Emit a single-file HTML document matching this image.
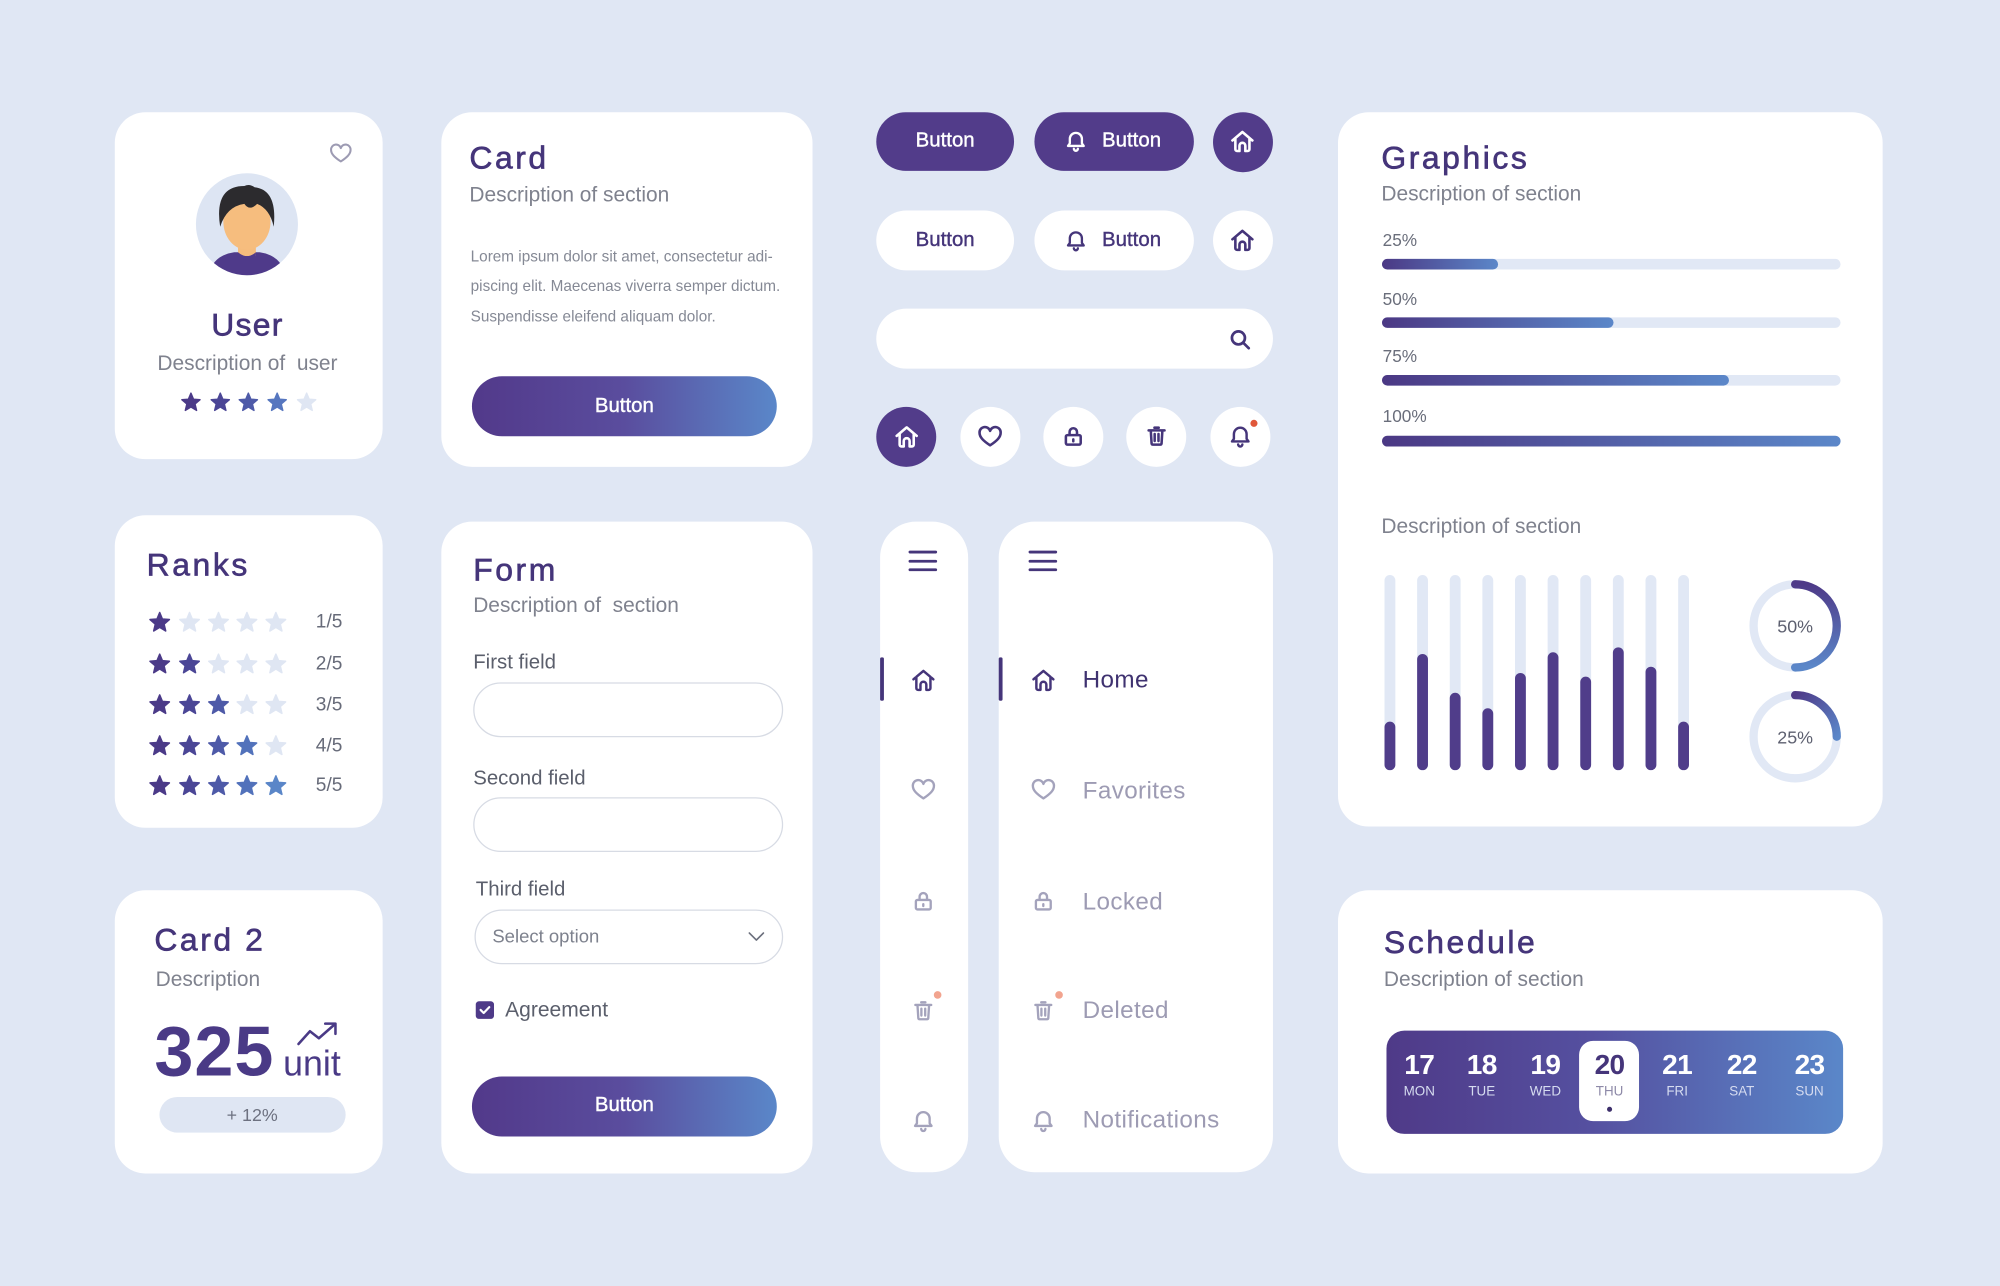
<!DOCTYPE html>
<html><head><meta charset="utf-8">
<style>
html,body{margin:0;padding:0;width:2000px;height:1286px;overflow:hidden;background:#e0e7f4;}
#s{position:absolute;left:0;top:0;width:1568px;height:1008px;transform:scale(1.27551);transform-origin:0 0;font-family:"Liberation Sans",sans-serif;}
.c{position:absolute;background:#fff;border-radius:24px;}
.t{position:absolute;white-space:nowrap;line-height:1;}
.h{font-size:25px;letter-spacing:2px;color:#45357a;-webkit-text-stroke:0.5px #45357a;}
.d{font-size:16.4px;color:#7f828e;}
.b{position:absolute;border-radius:24px;}
.gr{background:linear-gradient(90deg,#52398a 0%,#5a4d9e 50%,#5a87c9 100%);}
.bt{font-size:16px;color:#fff;-webkit-text-stroke:0.3px #fff;}
.bp{font-size:16px;color:#45357a;-webkit-text-stroke:0.3px #45357a;}
.cen{text-align:center;}
.nav{font-size:19px;letter-spacing:0.3px;color:#9d9bb3;}
.lab{font-size:16px;color:#5b5f6c;}
.inp{position:absolute;border:1px solid #d7dbe4;border-radius:22px;box-sizing:border-box;background:#fff;}
</style></head><body><div id="s">

<!-- cards -->
<div class="c" style="left:90px;top:88px;width:210px;height:272px;"></div>
<div class="c" style="left:346px;top:88px;width:291px;height:278px;"></div>
<div class="c" style="left:1049px;top:87.5px;width:427px;height:560px;"></div>
<div class="c" style="left:89.5px;top:404px;width:210.5px;height:245px;"></div>
<div class="c" style="left:89.5px;top:697.5px;width:210.5px;height:222px;"></div>
<div class="c" style="left:346px;top:408.5px;width:290.5px;height:511px;"></div>
<div class="c" style="left:690px;top:409px;width:69px;height:510px;border-radius:28px;"></div>
<div class="c" style="left:783px;top:409px;width:214.5px;height:510px;border-radius:28px;"></div>
<div class="c" style="left:1049px;top:697.8px;width:427px;height:222px;"></div>

<!-- buttons -->
<div class="b gr" style="left:370px;top:295px;width:239px;height:47px;"></div>
<div class="b gr" style="left:370px;top:843.5px;width:239px;height:47px;"></div>
<div class="b" style="left:687px;top:87.5px;width:108px;height:46.5px;background:#523c8a;"></div>
<div class="b" style="left:811px;top:87.5px;width:124.5px;height:46.5px;background:#523c8a;"></div>
<div class="b" style="left:950.5px;top:87.5px;width:47px;height:47px;background:#523c8a;"></div>
<div class="b" style="left:687px;top:165.2px;width:108px;height:47px;background:#fff;"></div>
<div class="b" style="left:811px;top:165.2px;width:124.5px;height:47px;background:#fff;"></div>
<div class="b" style="left:950.5px;top:165.2px;width:47px;height:47px;background:#fff;"></div>
<div class="b" style="left:687px;top:242px;width:310.5px;height:47px;background:#fff;"></div>
<div class="b" style="left:687.3px;top:319px;width:47px;height:47px;background:#523c8a;"></div>
<div class="b" style="left:752.7px;top:319px;width:47px;height:47px;background:#fff;"></div>
<div class="b" style="left:818px;top:319px;width:47px;height:47px;background:#fff;"></div>
<div class="b" style="left:883.3px;top:319px;width:47px;height:47px;background:#fff;"></div>
<div class="b" style="left:948.9px;top:319px;width:47px;height:47px;background:#fff;"></div>

<!-- form inputs -->
<div class="inp" style="left:371px;top:535px;width:243px;height:43px;"></div>
<div class="inp" style="left:371px;top:625px;width:243px;height:43px;"></div>
<div class="inp" style="left:371.5px;top:713px;width:242.5px;height:42.5px;"></div>

<!-- card2 pill -->
<div class="b" style="left:124.5px;top:860px;width:146.5px;height:28px;border-radius:14px;background:#dfe6f3;"></div>

<!-- schedule strip -->
<div class="b" style="left:1087px;top:808px;width:357.5px;height:80.5px;border-radius:14px;background:linear-gradient(90deg,#4f3a88 0%,#5550a0 45%,#5a87c9 100%);"></div>
<div class="b" style="left:1238.2px;top:816.2px;width:47px;height:63.2px;border-radius:11px;background:#fff;"></div>

<svg style="position:absolute;left:0;top:0;" width="1568" height="1008" viewBox="0 0 1568 1008">
<defs>
<linearGradient id="g1" x1="0" x2="1" y1="0" y2="0"><stop offset="0" stop-color="#4b3884"/><stop offset="1" stop-color="#5b87c9"/></linearGradient>
<linearGradient id="g50" gradientUnits="userSpaceOnUse" x1="1407" y1="458" x2="1407" y2="523"><stop offset="0" stop-color="#4e3a88"/><stop offset="1" stop-color="#5b87c9"/></linearGradient>
<linearGradient id="g25" gradientUnits="userSpaceOnUse" x1="1407" y1="545" x2="1440" y2="578"><stop offset="0" stop-color="#4e3a88"/><stop offset="1" stop-color="#5b87c9"/></linearGradient>
<polygon id="st" points="0,-1 .2645,-.364 .951,-.309 .428,.139 .588,.809 0,.45 -.588,.809 -.428,.139 -.951,-.309 -.2645,-.364" stroke-linejoin="round" stroke-width="0.15"/>
<g id="home" fill="none" stroke-linecap="round" stroke-linejoin="round"><path d="M3.5 11 L12 3.8 L20.5 11 M6 9 V18.5 a1.5 1.5 0 0 0 1.5 1.5 H9.5 V15.5 a2.5 2.5 0 0 1 5 0 V20 H16.5 a1.5 1.5 0 0 0 1.5 -1.5 V9"/></g>
<g id="bell" fill="none" stroke-linecap="round" stroke-linejoin="round"><path d="M12 4 a6 6 0 0 0 -6 6 v4.5 l-1.8 2.5 h15.6 l-1.8 -2.5 V10 a6 6 0 0 0 -6 -6 z M10 19.8 a2 2 0 0 0 4 0"/></g>
<g id="heart" fill="none" stroke-linecap="round" stroke-linejoin="round"><path d="M12 19.5 C6 15.5 3 12.5 3 8.8 A4.6 4.6 0 0 1 12 7.2 A4.6 4.6 0 0 1 21 8.8 C21 12.5 18 15.5 12 19.5 z"/></g>
<g id="lock" fill="none" stroke-linecap="round" stroke-linejoin="round"><path d="M6.5 11 h11 a1.5 1.5 0 0 1 1.5 1.5 v6 a1.5 1.5 0 0 1 -1.5 1.5 h-11 a1.5 1.5 0 0 1 -1.5 -1.5 v-6 a1.5 1.5 0 0 1 1.5 -1.5 z M8.5 11 V8 a3.5 3.5 0 0 1 7 0 v3 M12 15 v1.8"/></g>
<g id="trash" fill="none" stroke-linecap="round" stroke-linejoin="round"><path d="M4.5 6.5 h15 M10 4 h4 M6.5 6.5 l0.8 12.5 a1.2 1.2 0 0 0 1.2 1 h7 a1.2 1.2 0 0 0 1.2 -1 l0.8 -12.5 M10.2 10 v6.5 M13.8 10 v6.5"/></g>
<g id="search" fill="none" stroke-linecap="round"><circle cx="10.5" cy="10.5" r="6"/><path d="M15 15 l5 5"/></g>
<clipPath id="av"><circle cx="0" cy="0" r="40"/></clipPath>
</defs>

<!-- user card heart -->
<use href="#heart" transform="translate(257,110) scale(0.85)" stroke="#9d9bb3" stroke-width="1.9"/>
<!-- avatar -->
<g transform="translate(193.6,175.8)">
<circle r="40" fill="#dde5f3"/>
<g clip-path="url(#av)">
<path d="M-30,45 Q-30,25 -10,22 L10,22 Q30,25 30,45 Z" fill="#4f3a8a"/>
<rect x="-7" y="6" width="14" height="19" fill="#f5bc7d"/>
<path d="M-7,22 Q0,28 7,22 L7,26 Q0,30 -7,26Z" fill="#4f3a8a"/>
<ellipse cx="0" cy="-2" rx="18.5" ry="22" fill="#f6bd7e"/>
<path d="M-21,2 Q-26,-30 -2,-30 Q2,-32 6,-29 Q24,-27 21,2 Q18,-12 8,-16 Q2,-10 -2,-16 Q-16,-14 -21,2Z" fill="#2c2b2e"/>
</g>
</g>

<!-- user stars -->
<g transform="translate(0,0.7)">
<use href="#st" transform="translate(149.7,315) scale(7.5)" fill="#4b3a88" stroke="#4b3a88"/>
<use href="#st" transform="translate(172.7,315) scale(7.5)" fill="#4b4696" stroke="#4b4696"/>
<use href="#st" transform="translate(194.7,315) scale(7.5)" fill="#4e5aa8" stroke="#4e5aa8"/>
<use href="#st" transform="translate(217.3,315) scale(7.5)" fill="#5676bf" stroke="#5676bf"/>
<use href="#st" transform="translate(240.4,315) scale(7.5)" fill="#dfe6f3" stroke="#dfe6f3"/>
</g>

<!-- ranks stars -->
<g transform="translate(0,0.8)">
<use href="#st" transform="translate(125.2,487.4) scale(8)" fill="#4b3a88" stroke="#4b3a88"/>
<use href="#st" transform="translate(148.6,487.4) scale(8)" fill="#dfe6f3" stroke="#dfe6f3"/>
<use href="#st" transform="translate(171.3,487.4) scale(8)" fill="#dfe6f3" stroke="#dfe6f3"/>
<use href="#st" transform="translate(193.6,487.4) scale(8)" fill="#dfe6f3" stroke="#dfe6f3"/>
<use href="#st" transform="translate(216.3,487.4) scale(8)" fill="#dfe6f3" stroke="#dfe6f3"/>

<use href="#st" transform="translate(125.2,520.1) scale(8)" fill="#4b3a88" stroke="#4b3a88"/>
<use href="#st" transform="translate(148.6,520.1) scale(8)" fill="#4b4696" stroke="#4b4696"/>
<use href="#st" transform="translate(171.3,520.1) scale(8)" fill="#dfe6f3" stroke="#dfe6f3"/>
<use href="#st" transform="translate(193.6,520.1) scale(8)" fill="#dfe6f3" stroke="#dfe6f3"/>
<use href="#st" transform="translate(216.3,520.1) scale(8)" fill="#dfe6f3" stroke="#dfe6f3"/>

<use href="#st" transform="translate(125.2,552) scale(8)" fill="#4b3a88" stroke="#4b3a88"/>
<use href="#st" transform="translate(148.6,552) scale(8)" fill="#4b4696" stroke="#4b4696"/>
<use href="#st" transform="translate(171.3,552) scale(8)" fill="#4e5aa8" stroke="#4e5aa8"/>
<use href="#st" transform="translate(193.6,552) scale(8)" fill="#dfe6f3" stroke="#dfe6f3"/>
<use href="#st" transform="translate(216.3,552) scale(8)" fill="#dfe6f3" stroke="#dfe6f3"/>

<use href="#st" transform="translate(125.2,584.2) scale(8)" fill="#4b3a88" stroke="#4b3a88"/>
<use href="#st" transform="translate(148.6,584.2) scale(8)" fill="#4b4696" stroke="#4b4696"/>
<use href="#st" transform="translate(171.3,584.2) scale(8)" fill="#4e5aa8" stroke="#4e5aa8"/>
<use href="#st" transform="translate(193.6,584.2) scale(8)" fill="#5272bb" stroke="#5272bb"/>
<use href="#st" transform="translate(216.3,584.2) scale(8)" fill="#dfe6f3" stroke="#dfe6f3"/>

<use href="#st" transform="translate(125.2,615.5) scale(8)" fill="#4b3a88" stroke="#4b3a88"/>
<use href="#st" transform="translate(148.6,615.5) scale(8)" fill="#4b4696" stroke="#4b4696"/>
<use href="#st" transform="translate(171.3,615.5) scale(8)" fill="#4e5aa8" stroke="#4e5aa8"/>
<use href="#st" transform="translate(193.6,615.5) scale(8)" fill="#5272bb" stroke="#5272bb"/>
<use href="#st" transform="translate(216.3,615.5) scale(8)" fill="#5a86c8" stroke="#5a86c8"/>
</g>

<!-- button icons -->
<use href="#bell" transform="translate(834,101) scale(0.79)" stroke="#fff" stroke-width="2.3"/>
<use href="#home" transform="translate(963,100) scale(0.92)" stroke="#fff" stroke-width="2.2"/>
<use href="#bell" transform="translate(834,179) scale(0.79)" stroke="#45357a" stroke-width="2.3"/>
<use href="#home" transform="translate(963,177.5) scale(0.92)" stroke="#45357a" stroke-width="2.2"/>
<use href="#search" transform="translate(962,256) scale(0.85)" stroke="#45357a" stroke-width="2.5"/>

<use href="#home" transform="translate(699.8,331.6) scale(0.92)" stroke="#fff" stroke-width="2.2"/>
<use href="#heart" transform="translate(765.2,331.2) scale(0.92)" stroke="#45357a" stroke-width="2.2"/>
<use href="#lock" transform="translate(831.5,332) scale(0.83)" stroke="#45357a" stroke-width="2.4"/>
<use href="#trash" transform="translate(896.8,332) scale(0.83)" stroke="#45357a" stroke-width="2.4"/>
<use href="#bell" transform="translate(962.4,332) scale(0.83)" stroke="#45357a" stroke-width="2.3"/>
<circle cx="983.1" cy="331.9" r="2.8" fill="#e0573a"/>

<!-- sidebars -->
<g stroke="#45357a" stroke-width="2.2" stroke-linecap="round">
<path d="M713.4 432.8 H733.6 M713.4 440 H733.6 M713.4 446.7 H733.6"/>
<path d="M807.5 432.8 H827.7 M807.5 440 H827.7 M807.5 446.7 H827.7"/>
</g>
<rect x="690" y="515.4" width="3" height="34" rx="1.2" fill="#45357a"/>
<rect x="783" y="515.4" width="3" height="34" rx="1.2" fill="#45357a"/>
<use href="#home" transform="translate(712.9,522.5) scale(0.92)" stroke="#45357a" stroke-width="2.1"/>
<use href="#heart" transform="translate(712.9,608) scale(0.92)" stroke="#a4a3bc" stroke-width="2"/>
<use href="#lock" transform="translate(713.9,696.4) scale(0.83)" stroke="#a4a3bc" stroke-width="2.2"/>
<use href="#trash" transform="translate(713.9,782.5) scale(0.83)" stroke="#a4a3bc" stroke-width="2.2"/>
<use href="#bell" transform="translate(713.9,868.6) scale(0.83)" stroke="#a4a3bc" stroke-width="2.2"/>
<circle cx="735.1" cy="780" r="3" fill="#f2a48f"/>
<use href="#home" transform="translate(807,522.5) scale(0.92)" stroke="#45357a" stroke-width="2.1"/>
<use href="#heart" transform="translate(807,608) scale(0.92)" stroke="#a4a3bc" stroke-width="2"/>
<use href="#lock" transform="translate(808,696.4) scale(0.83)" stroke="#a4a3bc" stroke-width="2.2"/>
<use href="#trash" transform="translate(808,782.5) scale(0.83)" stroke="#a4a3bc" stroke-width="2.2"/>
<use href="#bell" transform="translate(808,868.6) scale(0.83)" stroke="#a4a3bc" stroke-width="2.2"/>
<circle cx="830.3" cy="780" r="3" fill="#f2a48f"/>

<!-- form chevron + checkbox -->
<path d="M587.5 731.5 l5.5 5.5 l5.5 -5.5" fill="none" stroke="#6b6f7c" stroke-width="1.3" stroke-linecap="round" stroke-linejoin="round"/>
<rect x="373" y="785" width="14.3" height="13.8" rx="2.5" fill="#4e3a88"/>
<path d="M376.8 791.8 l2.4 2.4 l4.4 -4.6" fill="none" stroke="#fff" stroke-width="1.7" stroke-linecap="round" stroke-linejoin="round"/>

<!-- card2 trend arrow -->
<path d="M234 818.5 L243 808.5 L250 814 L262.5 803" fill="none" stroke="#4a3a86" stroke-width="2" stroke-linecap="round" stroke-linejoin="round"/>
<path d="M255 802.5 H263 V810.5" fill="none" stroke="#4a3a86" stroke-width="2" stroke-linecap="round" stroke-linejoin="round"/>

<!-- progress bars -->
<rect x="1083.5" y="203" width="359.5" height="8.3" rx="4.15" fill="#e1e8f5"/>
<rect x="1083.5" y="203" width="91" height="8.3" rx="4.15" fill="url(#g1)"/>
<rect x="1083.5" y="248.8" width="359.5" height="8.3" rx="4.15" fill="#e1e8f5"/>
<rect x="1083.5" y="248.8" width="181.5" height="8.3" rx="4.15" fill="url(#g1)"/>
<rect x="1083.5" y="294" width="359.5" height="8.3" rx="4.15" fill="#e1e8f5"/>
<rect x="1083.5" y="294" width="272" height="8.3" rx="4.15" fill="url(#g1)"/>
<rect x="1083.5" y="341.6" width="359.5" height="8.5" rx="4.25" fill="url(#g1)"/>

<!-- vertical bars -->
<g fill="#e1e8f5">
<rect x="1085.45" y="450.8" width="8.5" height="153" rx="4.25"/>
<rect x="1111.03" y="450.8" width="8.5" height="153" rx="4.25"/>
<rect x="1136.61" y="450.8" width="8.5" height="153" rx="4.25"/>
<rect x="1162.19" y="450.8" width="8.5" height="153" rx="4.25"/>
<rect x="1187.77" y="450.8" width="8.5" height="153" rx="4.25"/>
<rect x="1213.35" y="450.8" width="8.5" height="153" rx="4.25"/>
<rect x="1238.93" y="450.8" width="8.5" height="153" rx="4.25"/>
<rect x="1264.51" y="450.8" width="8.5" height="153" rx="4.25"/>
<rect x="1290.09" y="450.8" width="8.5" height="153" rx="4.25"/>
<rect x="1315.67" y="450.8" width="8.5" height="153" rx="4.25"/>
</g>
<g fill="#503d8a">
<rect x="1085.45" y="565.8" width="8.5" height="38" rx="4.25"/>
<rect x="1111.03" y="512.7" width="8.5" height="91.1" rx="4.25"/>
<rect x="1136.61" y="543.1" width="8.5" height="60.7" rx="4.25"/>
<rect x="1162.19" y="555.3" width="8.5" height="48.5" rx="4.25"/>
<rect x="1187.77" y="527.6" width="8.5" height="76.2" rx="4.25"/>
<rect x="1213.35" y="511.4" width="8.5" height="92.4" rx="4.25"/>
<rect x="1238.93" y="530.5" width="8.5" height="73.3" rx="4.25"/>
<rect x="1264.51" y="507.5" width="8.5" height="96.3" rx="4.25"/>
<rect x="1290.09" y="522.7" width="8.5" height="81.1" rx="4.25"/>
<rect x="1315.67" y="565.8" width="8.5" height="38" rx="4.25"/>
</g>

<!-- donuts -->
<circle cx="1407.4" cy="490.7" r="32.6" fill="none" stroke="#e1e8f5" stroke-width="6.5"/>
<path d="M1407.4 458.1 A32.6 32.6 0 0 1 1407.4 523.3" fill="none" stroke="url(#g50)" stroke-width="6.5" stroke-linecap="round"/>
<circle cx="1407.4" cy="577.6" r="32.6" fill="none" stroke="#e1e8f5" stroke-width="6.5"/>
<path d="M1407.4 545 A32.6 32.6 0 0 1 1440 577.6" fill="none" stroke="url(#g25)" stroke-width="6.5" stroke-linecap="round"/>

<!-- schedule dot -->
<circle cx="1261.9" cy="869.7" r="2" fill="#3d2f6b"/>
</svg>

<!-- TEXT -->
<div class="t h cen" style="left:94px;width:200px;top:243.4px;letter-spacing:1px;">User</div>
<div class="t d cen" style="left:94px;width:200px;top:277px;">Description of&nbsp; user</div>

<div class="t h" style="left:368px;top:111.7px;">Card</div>
<div class="t d" style="left:368px;top:145px;">Description of section</div>
<div class="t" style="left:369px;top:194.9px;font-size:12px;color:#858995;">Lorem ipsum dolor sit amet, consectetur adi-</div>
<div class="t" style="left:369px;top:218.4px;font-size:12px;color:#858995;">piscing elit. Maecenas viverra semper dictum.</div>
<div class="t" style="left:369px;top:241.9px;font-size:12px;color:#858995;">Suspendisse eleifend aliquam dolor.</div>
<div class="t bt cen" style="left:370px;width:239px;top:311px;">Button</div>

<div class="t bt cen" style="left:687px;width:108px;top:103.3px;">Button</div>
<div class="t bt" style="left:864px;top:103.3px;">Button</div>
<div class="t bp cen" style="left:687px;width:108px;top:180.9px;">Button</div>
<div class="t bp" style="left:864px;top:180.9px;">Button</div>

<div class="t h" style="left:1083px;top:112px;">Graphics</div>
<div class="t d" style="left:1083px;top:143.6px;">Description of section</div>
<div class="t" style="left:1084px;top:182.1px;font-size:13.5px;color:#6a6e7b;">25%</div>
<div class="t" style="left:1084px;top:228.1px;font-size:13.5px;color:#6a6e7b;">50%</div>
<div class="t" style="left:1084px;top:273px;font-size:13.5px;color:#6a6e7b;">75%</div>
<div class="t" style="left:1084px;top:320.1px;font-size:13.5px;color:#6a6e7b;">100%</div>
<div class="t d" style="left:1083px;top:404.9px;">Description of section</div>
<div class="t cen" style="left:1367.4px;width:80px;top:484px;font-size:14px;color:#5d6070;">50%</div>
<div class="t cen" style="left:1367.4px;width:80px;top:570.9px;font-size:14px;color:#5d6070;">25%</div>

<div class="t h" style="left:115px;top:430.8px;">Ranks</div>
<div class="t" style="left:247.6px;top:480.1px;font-size:15px;color:#676b79;">1/5</div>
<div class="t" style="left:247.6px;top:512.8px;font-size:15px;color:#676b79;">2/5</div>
<div class="t" style="left:247.6px;top:544.7px;font-size:15px;color:#676b79;">3/5</div>
<div class="t" style="left:247.6px;top:576.9px;font-size:15px;color:#676b79;">4/5</div>
<div class="t" style="left:247.6px;top:608.2px;font-size:15px;color:#676b79;">5/5</div>

<div class="t h" style="left:121px;top:724.8px;">Card 2</div>
<div class="t d" style="left:122px;top:759.6px;">Description</div>
<div class="t" style="left:121px;top:797px;font-size:55px;font-weight:bold;color:#4a3a86;letter-spacing:0.8px;">325</div>
<div class="t" style="left:222px;top:820.3px;font-size:28px;color:#4a3a86;">unit</div>
<div class="t cen" style="left:124.5px;width:146.5px;top:867.2px;font-size:14px;color:#6d7180;">+ 12%</div>

<div class="t h" style="left:371px;top:434.7px;">Form</div>
<div class="t d" style="left:371px;top:466.6px;">Description of&nbsp; section</div>
<div class="t lab" style="left:371px;top:511.7px;">First field</div>
<div class="t lab" style="left:371px;top:602.7px;">Second field</div>
<div class="t lab" style="left:373px;top:690px;">Third field</div>
<div class="t" style="left:386px;top:728px;font-size:14.5px;color:#7d818d;">Select option</div>
<div class="t" style="left:396px;top:783.8px;font-size:16.5px;color:#5b5f6c;">Agreement</div>
<div class="t bt cen" style="left:370px;width:239px;top:859.2px;">Button</div>

<div class="t nav" style="left:848.8px;top:524.3px;color:#3f3270;">Home</div>
<div class="t nav" style="left:848.8px;top:610.8px;">Favorites</div>
<div class="t nav" style="left:848.8px;top:697.7px;">Locked</div>
<div class="t nav" style="left:848.8px;top:783.3px;">Deleted</div>
<div class="t nav" style="left:848.8px;top:869.4px;">Notifications</div>

<div class="t h" style="left:1085px;top:727.4px;">Schedule</div>
<div class="t d" style="left:1085px;top:759.8px;">Description of section</div>

<div class="t cen" style="left:1082.7px;width:60px;top:823.7px;font-size:22px;font-weight:bold;color:#fff;letter-spacing:-0.5px;">17</div>
<div class="t cen" style="left:1131.7px;width:60px;top:823.7px;font-size:22px;font-weight:bold;color:#fff;letter-spacing:-0.5px;">18</div>
<div class="t cen" style="left:1181.6px;width:60px;top:823.7px;font-size:22px;font-weight:bold;color:#fff;letter-spacing:-0.5px;">19</div>
<div class="t cen" style="left:1231.9px;width:60px;top:823.7px;font-size:22px;font-weight:bold;color:#45357a;letter-spacing:-0.5px;">20</div>
<div class="t cen" style="left:1284.9px;width:60px;top:823.7px;font-size:22px;font-weight:bold;color:#fff;letter-spacing:-0.5px;">21</div>
<div class="t cen" style="left:1335.6px;width:60px;top:823.7px;font-size:22px;font-weight:bold;color:#fff;letter-spacing:-0.5px;">22</div>
<div class="t cen" style="left:1388.7px;width:60px;top:823.7px;font-size:22px;font-weight:bold;color:#fff;letter-spacing:-0.5px;">23</div>

<div class="t cen" style="left:1082.7px;width:60px;top:851.3px;font-size:10.5px;color:#d6dcf0;">MON</div>
<div class="t cen" style="left:1131.7px;width:60px;top:851.3px;font-size:10.5px;color:#d6dcf0;">TUE</div>
<div class="t cen" style="left:1181.6px;width:60px;top:851.3px;font-size:10.5px;color:#d6dcf0;">WED</div>
<div class="t cen" style="left:1231.9px;width:60px;top:851.3px;font-size:10.5px;color:#8e8aa8;">THU</div>
<div class="t cen" style="left:1284.9px;width:60px;top:851.3px;font-size:10.5px;color:#d6dcf0;">FRI</div>
<div class="t cen" style="left:1335.6px;width:60px;top:851.3px;font-size:10.5px;color:#d6dcf0;">SAT</div>
<div class="t cen" style="left:1388.7px;width:60px;top:851.3px;font-size:10.5px;color:#d6dcf0;">SUN</div>

</div></body></html>
